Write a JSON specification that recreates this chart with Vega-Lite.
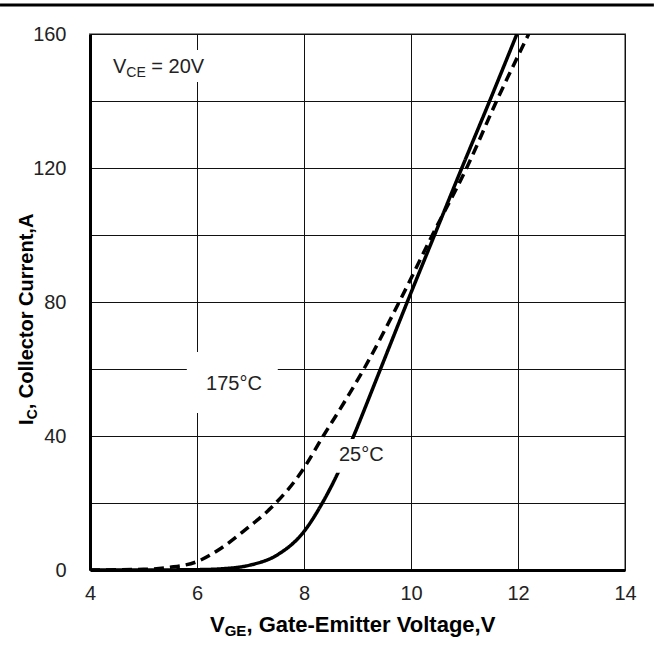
{
  "$schema": "https://vega.github.io/schema/vega-lite/v6.json",
  "width": 535,
  "height": 536,
  "autosize": {"type": "none"},
  "padding": {"left": 90, "top": 34, "right": 29, "bottom": 81},
  "background": "white",
  "config": {
    "font": "Liberation Sans",
    "view": {"stroke": "#8c8c8c", "strokeWidth": 2}
  },
  "datasets": {
    "transfer": [
      {"temp": "25°C", "vge": 4.0, "ic": 0},
      {"temp": "25°C", "vge": 5.0, "ic": 0},
      {"temp": "25°C", "vge": 6.0, "ic": 0.1},
      {"temp": "25°C", "vge": 6.5, "ic": 0.4},
      {"temp": "25°C", "vge": 7.0, "ic": 1.5},
      {"temp": "25°C", "vge": 7.5, "ic": 4.5},
      {"temp": "25°C", "vge": 8.0, "ic": 11.5},
      {"temp": "25°C", "vge": 8.36, "ic": 20.5},
      {"temp": "25°C", "vge": 8.64, "ic": 29.2},
      {"temp": "25°C", "vge": 8.92, "ic": 39.7},
      {"temp": "25°C", "vge": 9.42, "ic": 59.6},
      {"temp": "25°C", "vge": 9.93, "ic": 80},
      {"temp": "25°C", "vge": 10.44, "ic": 100},
      {"temp": "25°C", "vge": 10.95, "ic": 120},
      {"temp": "25°C", "vge": 11.47, "ic": 140},
      {"temp": "25°C", "vge": 11.98, "ic": 160},
      {"temp": "175°C", "vge": 4.0, "ic": 0},
      {"temp": "175°C", "vge": 5.0, "ic": 0.2},
      {"temp": "175°C", "vge": 5.5, "ic": 0.8},
      {"temp": "175°C", "vge": 6.0, "ic": 2.5},
      {"temp": "175°C", "vge": 6.45, "ic": 6.5},
      {"temp": "175°C", "vge": 6.9, "ic": 12},
      {"temp": "175°C", "vge": 7.38, "ic": 18.5},
      {"temp": "175°C", "vge": 7.94, "ic": 29},
      {"temp": "175°C", "vge": 8.36, "ic": 40},
      {"temp": "175°C", "vge": 8.75, "ic": 50},
      {"temp": "175°C", "vge": 9.14, "ic": 60.6},
      {"temp": "175°C", "vge": 9.78, "ic": 80},
      {"temp": "175°C", "vge": 10.4, "ic": 100},
      {"temp": "175°C", "vge": 11.04, "ic": 120},
      {"temp": "175°C", "vge": 11.6, "ic": 140},
      {"temp": "175°C", "vge": 12.2, "ic": 160}
    ]
  },
  "layer": [
    {
      "data": {"name": "transfer"},
      "mark": {"type": "line", "color": "black", "strokeWidth": 3.5, "interpolate": "monotone", "clip": true},
      "encoding": {
        "x": {
          "field": "vge",
          "type": "quantitative",
          "scale": {"domain": [4, 14], "nice": false, "zero": false},
          "axis": {
            "title": null,
            "values": [4, 6, 8, 10, 12, 14],
            "grid": true,
            "gridColor": "#111",
            "gridWidth": 1,
            "gridOpacity": 1,
            "ticks": false,
            "tickSize": 0,
            "domain": true,
            "domainColor": "black",
            "domainWidth": 3,
            "labelFontSize": 20,
            "labelColor": "#222",
            "labelPadding": 13,
            "labelFlush": false
          }
        },
        "y": {
          "field": "ic",
          "type": "quantitative",
          "scale": {"domain": [0, 160], "nice": false},
          "axis": {
            "title": null,
            "values": [0, 20, 40, 60, 80, 100, 120, 140, 160],
            "labelExpr": "datum.value % 40 === 0 ? datum.label : ''",
            "grid": true,
            "gridColor": "#111",
            "gridWidth": 1,
            "gridOpacity": 1,
            "ticks": false,
            "tickSize": 0,
            "domain": true,
            "domainColor": "black",
            "domainWidth": 3,
            "labelFontSize": 20,
            "labelColor": "#222",
            "labelPadding": 24,
            "labelFlush": false
          }
        },
        "detail": {"field": "temp"},
        "strokeDash": {
          "field": "temp",
          "type": "nominal",
          "scale": {"domain": ["25°C", "175°C"], "range": [[1, 0], [10, 6]]},
          "legend": null
        }
      }
    },
    {
      "data": {"values": [{}]},
      "mark": {"type": "rect", "color": "white"},
      "encoding": {"x": {"datum": 5.81}, "x2": {"datum": 7.51}, "y": {"datum": 65.1}, "y2": {"datum": 46.9}}
    },
    {
      "data": {"values": [{}]},
      "mark": {"type": "rect", "color": "white"},
      "encoding": {"x": {"datum": 8.6}, "x2": {"datum": 9.7}, "y": {"datum": 39.1}, "y2": {"datum": 29.0}}
    },
    {
      "data": {"values": [{}]},
      "mark": {"type": "rect", "color": "white"},
      "encoding": {"x": {"datum": 4.19}, "x2": {"datum": 6.34}, "y": {"datum": 155.2}, "y2": {"datum": 145.7}}
    },
    {
      "data": {"values": [{}]},
      "mark": {"type": "text", "text": "175°C", "fontSize": 20, "color": "#222", "align": "center", "baseline": "middle"},
      "encoding": {"x": {"datum": 6.69}, "y": {"datum": 55.5}}
    },
    {
      "data": {"values": [{}]},
      "mark": {"type": "text", "text": "25°C", "fontSize": 20, "color": "#222", "align": "center", "baseline": "middle"},
      "encoding": {"x": {"datum": 9.07}, "y": {"datum": 34.3}}
    },
    {
      "data": {"values": [{}]},
      "mark": {"type": "text", "text": "V", "fontSize": 20, "color": "#222", "align": "left", "baseline": "alphabetic"},
      "encoding": {"x": {"datum": 4.43}, "y": {"datum": 148.4}}
    },
    {
      "data": {"values": [{}]},
      "mark": {"type": "text", "text": "CE", "fontSize": 14, "color": "#222", "align": "left", "baseline": "alphabetic", "dx": 13.3, "dy": 4},
      "encoding": {"x": {"datum": 4.43}, "y": {"datum": 148.4}}
    },
    {
      "data": {"values": [{}]},
      "mark": {"type": "text", "text": "= 20V", "fontSize": 20, "color": "#222", "align": "left", "baseline": "alphabetic", "dx": 38.3},
      "encoding": {"x": {"datum": 4.43}, "y": {"datum": 148.4}}
    },
    {
      "data": {"values": [{}]},
      "mark": {"type": "text", "text": "V", "fontSize": 22, "fontWeight": "bold", "color": "black", "align": "left", "baseline": "alphabetic"},
      "encoding": {"x": {"datum": 6.243}, "y": {"datum": -18.5}}
    },
    {
      "data": {"values": [{}]},
      "mark": {"type": "text", "text": "GE", "fontSize": 15, "fontWeight": "bold", "color": "black", "align": "left", "baseline": "alphabetic", "dx": 14.7, "dy": 4},
      "encoding": {"x": {"datum": 6.243}, "y": {"datum": -18.5}}
    },
    {
      "data": {"values": [{}]},
      "mark": {"type": "text", "text": ", Gate-Emitter Voltage,V", "fontSize": 22, "fontWeight": "bold", "color": "black", "align": "left", "baseline": "alphabetic", "dx": 36.4},
      "encoding": {"x": {"datum": 6.243}, "y": {"datum": -18.5}}
    },
    {
      "data": {"values": [{}]},
      "mark": {"type": "text", "text": "I", "fontSize": 20, "fontWeight": "bold", "color": "black", "align": "left", "baseline": "alphabetic", "angle": 270},
      "encoding": {"x": {"datum": 2.935}, "y": {"datum": 43.3}}
    },
    {
      "data": {"values": [{}]},
      "mark": {"type": "text", "text": "C", "fontSize": 14, "fontWeight": "bold", "color": "black", "align": "left", "baseline": "alphabetic", "angle": 270, "dx": 5.6, "dy": 4},
      "encoding": {"x": {"datum": 2.935}, "y": {"datum": 43.3}}
    },
    {
      "data": {"values": [{}]},
      "mark": {"type": "text", "text": ", Collector Current,A", "fontSize": 20, "fontWeight": "bold", "color": "black", "align": "left", "baseline": "alphabetic", "angle": 270, "dx": 15.7},
      "encoding": {"x": {"datum": 2.935}, "y": {"datum": 43.3}}
    },
    {
      "data": {"values": [{}]},
      "mark": {"type": "rule", "color": "black", "strokeWidth": 3},
      "encoding": {"x": {"datum": 2.318}, "x2": {"datum": 14.54}, "y": {"datum": 168.66}}
    }
  ]
}
